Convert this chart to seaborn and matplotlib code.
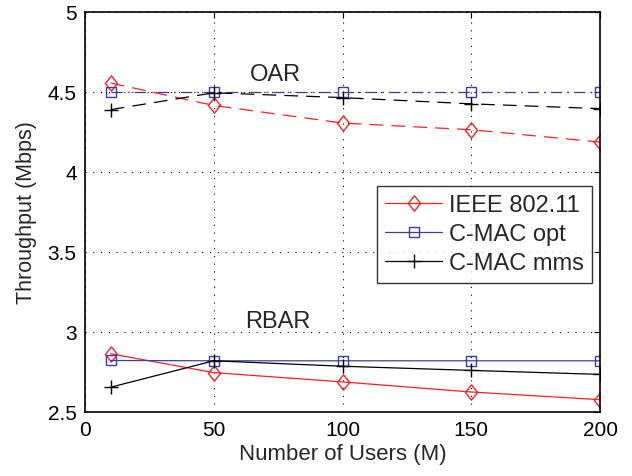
import matplotlib
matplotlib.use("Agg")
import matplotlib.pyplot as plt
from matplotlib.path import Path
import seaborn as sns

users = [10, 50, 100, 150, 200]
series_names = ["IEEE 802.11", "C-MAC opt", "C-MAC mms"]

oar_ieee = [4.556, 4.416, 4.306, 4.264, 4.187]
oar_opt = [4.50, 4.50, 4.50, 4.50, 4.50]
oar_mms = [4.39, 4.495, 4.465, 4.426, 4.396]

rbar_ieee = [2.864, 2.746, 2.688, 2.625, 2.577]
rbar_opt = [2.822, 2.82, 2.82, 2.82, 2.82]
rbar_mms = [2.655, 2.82, 2.786, 2.76, 2.735]

x_ticks = [0, 50, 100, 150, 200]
y_ticks = [2.5, 3, 3.5, 4, 4.5, 5]
y_tick_labels = ['2.5', '3', '3.5', '4', '4.5', '5']

sns.set_style("white")
plt.rcParams['font.family'] = ['Liberation Sans', 'DejaVu Sans']

fig = plt.figure(figsize=(6.32, 4.77), dpi=100)
ax = fig.add_axes([85/632, 64/477, 515/632, 400/477])

diamond = Path([(0, 1), (0.8, 0), (0, -1), (-0.8, 0), (0, 1)],
               [Path.MOVETO, Path.LINETO, Path.LINETO, Path.LINETO, Path.CLOSEPOLY])

colors = ['#ff2020', '#3c3ca8', 'black']
markers = [diamond, 's', '+']
msizes = [11, 6.5, 10]

oar = [oar_ieee, oar_opt, oar_mms]
rbar = [rbar_ieee, rbar_opt, rbar_mms]
oar_dash = [(11, 6.5), (9, 4, 1.5, 4), (11, 6.5)]

for i in range(3):
    sns.lineplot(x=users, y=oar[i], ax=ax, color=colors[i], lw=0.9,
                 marker=markers[i], markersize=msizes[i], markerfacecolor='none',
                 markeredgecolor=colors[i], markeredgewidth=1.0,
                 linestyle=(0, oar_dash[i]))
    sns.lineplot(x=users, y=rbar[i], ax=ax, color=colors[i], lw=0.9,
                 marker=markers[i], markersize=msizes[i], markerfacecolor='none',
                 markeredgecolor=colors[i], markeredgewidth=1.0, label=series_names[i])

ax.set_xlim(0, 200)
ax.set_ylim(2.5, 5)
ax.set_xticks(x_ticks)
ax.set_xticklabels([str(t) for t in x_ticks])
ax.set_yticks(y_ticks)
ax.set_yticklabels(y_tick_labels)
ax.tick_params(direction='in', length=4, width=0.8, labelsize=15, colors='black',
               top=True, right=True, pad=6)
ax.grid(True, linestyle=(0, (1, 6)), color='black', lw=0.8)
for s in ax.spines.values():
    s.set_color('black')
    s.set_linewidth(1.2)

ax.set_xlabel("Number of Users (M)", fontsize=16, labelpad=3)
ax.set_ylabel("Throughput (Mbps)", fontsize=15.5, labelpad=8)

ax.text(74, 4.61, "OAR", fontsize=17, ha='center', va='center')
ax.text(75, 3.07, "RBAR", fontsize=17, ha='center', va='center')

leg = ax.legend(loc='upper left', bbox_to_anchor=((377-85)/515, (413-187)/400),
                fontsize=17, frameon=True, fancybox=False, edgecolor='black',
                borderpad=0.35, labelspacing=0.3, handlelength=2.4, handletextpad=0.3,
                borderaxespad=0)
leg.get_frame().set_linewidth(1.0)

fig.savefig("out.png", dpi=100, facecolor='white')
